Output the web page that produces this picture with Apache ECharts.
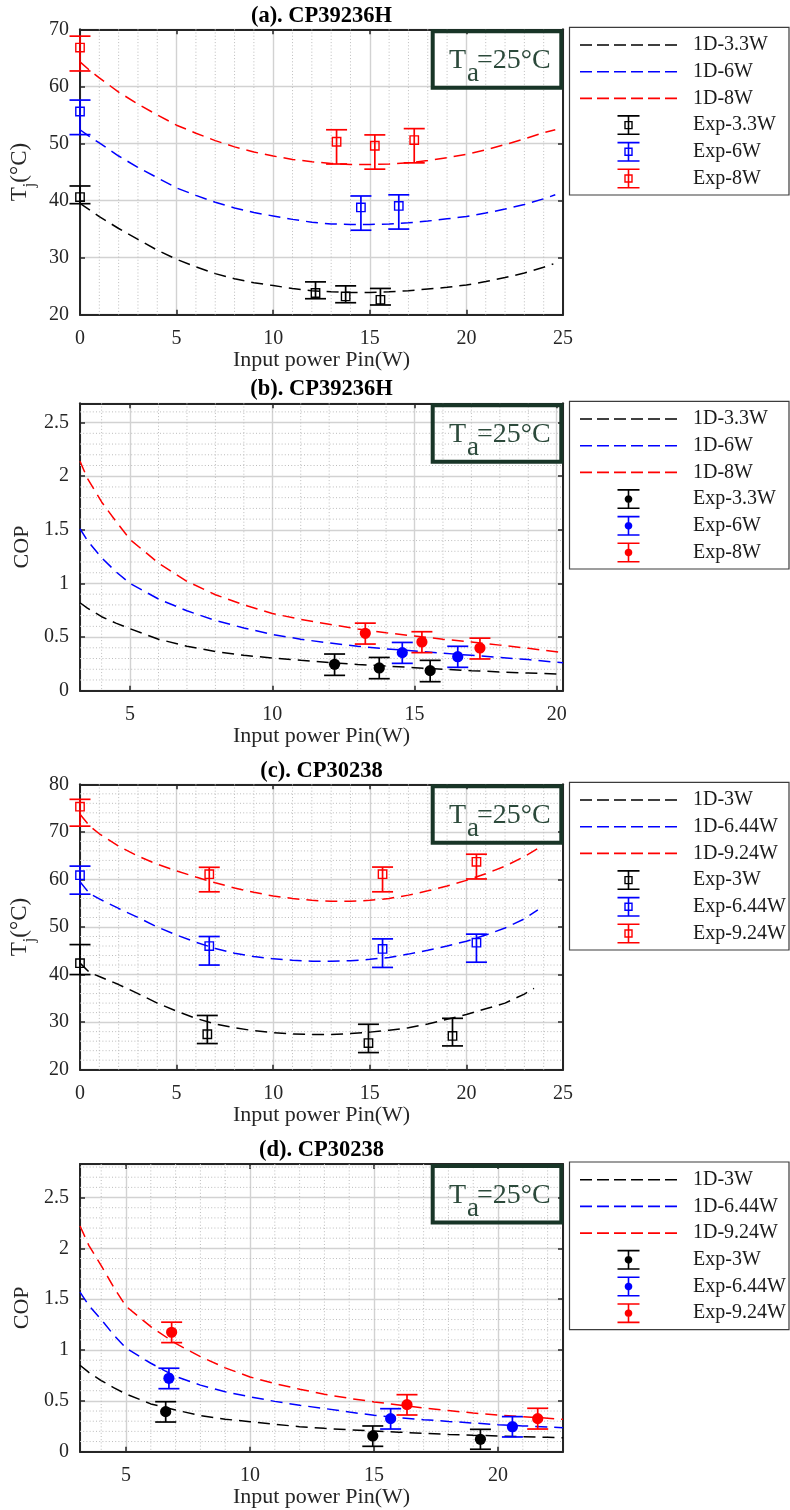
<!DOCTYPE html>
<html><head><meta charset="utf-8">
<script src="https://cdn.jsdelivr.net/npm/echarts@6/dist/echarts.min.js"></script>
<style>html,body{margin:0;padding:0;background:#fff}#c{width:790px;height:1510px}</style>
</head><body><div id="c"></div>
<script>
// ---------------- DATA ----------------
const panelTitles = ['(a). CP39236H', '(b). CP39236H', '(c). CP30238', '(d). CP30238'];
const xTitle = 'Input power Pin(W)';
const legendA = ['1D-3.3W', '1D-6W', '1D-8W', 'Exp-3.3W', 'Exp-6W', 'Exp-8W'];
const legendC = ['1D-3W', '1D-6.44W', '1D-9.24W', 'Exp-3W', 'Exp-6.44W', 'Exp-9.24W'];

// (a) Tj vs Pin, CP39236H  -- fits [x, Tj]; experiments [x, Tj, low, high]
const aFit33 = [[0,39.5],[1,37.2],[2,35.1],[3,33.2],[4,31.3],[5,29.7],[6,28.4],[7,27.2],[8,26.3],[9,25.6],[10,25.1],[11,24.6],[12,24.2],[13,24.0],[14,23.9],[15,23.9],[16,24.0],[17,24.2],[18,24.5],[19,24.8],[20,25.2],[21,25.8],[22,26.5],[23,27.3],[24,28.3],[24.5,28.9]];
const aFit6  = [[0,52.4],[0.5,51.2],[1,50.1],[2,47.8],[3,45.8],[4,44.0],[5,42.2],[6,40.9],[7,39.7],[8,38.7],[9,37.9],[10,37.3],[11,36.7],[12,36.2],[13,35.9],[14,35.8],[15,35.8],[16,35.9],[17,36.1],[18,36.4],[19,36.8],[20,37.2],[21,37.8],[22,38.5],[23,39.3],[24,40.3],[24.6,41.0]];
const aFit8  = [[0,64.3],[0.5,62.8],[1,61.5],[2,59.0],[3,56.9],[4,55.0],[5,53.2],[6,51.8],[7,50.5],[8,49.4],[9,48.5],[10,47.8],[11,47.2],[12,46.8],[13,46.5],[14,46.3],[15,46.3],[16,46.4],[17,46.6],[18,47.0],[19,47.5],[20,48.1],[21,48.9],[22,49.8],[23,50.8],[24,51.9],[24.6,52.4]];
const aExp33 = [[0,40.6,39.45,42.55],[12.19,23.8,22.8,25.75],[13.75,23.2,22.1,25.05],[15.55,22.6,21.7,24.6]];
const aExp6  = [[0,55.6,51.55,57.6],[14.54,38.8,34.8,40.8],[16.5,39.05,35.0,41.0]];
const aExp8  = [[0,66.8,62.7,68.8],[13.28,50.3,46.4,52.4],[15.26,49.6,45.5,51.5],[17.3,50.6,46.6,52.6]];

// (b) COP vs Pin, CP39236H
const bFit33 = [[3.24,0.82],[3.5,0.77],[4,0.69],[4.5,0.63],[5,0.578],[6,0.48],[7,0.415],[8,0.365],[9,0.33],[10,0.305],[11,0.283],[12,0.262],[13,0.245],[14,0.23],[15,0.215],[16,0.2],[17,0.187],[18,0.175],[19,0.165],[20.22,0.153]];
const bFit6  = [[3.24,1.51],[3.5,1.4],[4,1.24],[4.5,1.11],[5,1.0],[6,0.855],[7,0.745],[8,0.655],[9,0.585],[10,0.525],[11,0.48],[12,0.445],[13,0.415],[14,0.39],[15,0.37],[16,0.35],[17,0.33],[18,0.31],[19,0.29],[20.22,0.26]];
const bFit8  = [[3.24,2.14],[3.5,1.98],[4,1.76],[4.5,1.58],[5,1.41],[6,1.19],[7,1.02],[8,0.895],[9,0.8],[10,0.72],[11,0.665],[12,0.62],[13,0.575],[14,0.54],[15,0.51],[16,0.48],[17,0.455],[18,0.425],[19,0.395],[20.22,0.355]];
const bExp33 = [[12.19,0.246,0.143,0.342],[13.76,0.212,0.112,0.31],[15.55,0.187,0.084,0.283]];
const bExp6  = [[14.57,0.355,0.255,0.45],[16.52,0.317,0.218,0.414]];
const bExp8  = [[13.27,0.535,0.435,0.63],[15.26,0.454,0.355,0.55],[17.3,0.398,0.296,0.49]];

// (c) Tj vs Pin, CP30238
const cFit3   = [[0,42.4],[0.5,40.4],[1,39.6],[2,37.9],[3,36.0],[4,34.0],[5,32.3],[6,30.8],[7,29.6],[8,28.8],[9,28.2],[10,27.8],[11,27.5],[12,27.4],[13,27.4],[14,27.6],[15,27.9],[16,28.3],[17,28.8],[18,29.6],[19,30.6],[20,31.6],[21,32.8],[22,34.0],[23,35.9],[23.5,37.1]];
const cFit644 = [[0,59.5],[0.5,57.0],[1,55.9],[2,53.9],[3,52.0],[4,50.0],[5,48.3],[6,46.8],[7,45.5],[8,44.5],[9,43.8],[10,43.3],[11,43.0],[12,42.8],[13,42.8],[14,42.9],[15,43.2],[16,43.6],[17,44.3],[18,45.1],[19,46.0],[20,47.0],[21,48.3],[22,49.8],[23,51.7],[23.7,53.6]];
const cFit924 = [[0,73.7],[0.5,71.2],[1,69.6],[2,67.0],[3,64.9],[4,63.2],[5,61.8],[6,60.5],[7,59.3],[8,58.2],[9,57.3],[10,56.5],[11,56.0],[12,55.6],[13,55.4],[14,55.4],[15,55.6],[16,56.0],[17,56.7],[18,57.6],[19,58.6],[20,59.8],[21,61.2],[22,62.8],[23,64.8],[23.7,66.5]];
const cExp3   = [[0,42.4,40.0,46.3],[6.59,27.45,25.5,31.4],[14.93,25.6,23.6,29.55],[19.28,27.1,25.0,30.8]];
const cExp644 = [[0,60.9,56.9,62.8],[6.69,46.0,42.0,48.0],[15.66,45.4,41.5,47.5],[20.52,46.7,42.6,48.5]];
const cExp924 = [[0,75.3,71.2,76.84],[6.69,61.1,57.4,62.55],[15.66,61.1,57.4,62.6],[20.52,63.7,60.1,65.3]];

// (d) COP vs Pin, CP30238
const dFit3   = [[3.145,0.85],[3.5,0.78],[4,0.7],[4.5,0.63],[5,0.568],[6,0.47],[7,0.41],[8,0.355],[9,0.32],[10,0.295],[11,0.27],[12,0.246],[13,0.23],[14,0.215],[15,0.204],[16,0.192],[17,0.18],[18,0.17],[19,0.162],[20,0.155],[21,0.148],[22,0.142],[22.62,0.138]];
const dFit644 = [[3.145,1.57],[3.5,1.44],[4,1.3],[4.5,1.15],[5,1.02],[6,0.87],[7,0.74],[8,0.655],[9,0.59],[10,0.54],[11,0.495],[12,0.457],[13,0.425],[14,0.39],[15,0.358],[16,0.335],[17,0.315],[18,0.298],[19,0.282],[20,0.266],[21,0.254],[22,0.243],[22.62,0.236]];
const dFit924 = [[3.145,2.22],[3.5,2.03],[4,1.83],[4.5,1.62],[5,1.43],[6,1.23],[7,1.065],[8,0.935],[9,0.825],[10,0.735],[11,0.67],[12,0.615],[13,0.565],[14,0.525],[15,0.49],[16,0.46],[17,0.43],[18,0.405],[19,0.38],[20,0.36],[21,0.345],[22,0.33],[22.62,0.318]];
const dExp3   = [[6.6,0.394,0.292,0.492],[14.95,0.155,0.053,0.253],[19.29,0.122,0.024,0.22]];
const dExp644 = [[6.73,0.722,0.62,0.821],[15.67,0.325,0.223,0.423],[20.58,0.246,0.145,0.345]];
const dExp924 = [[6.84,1.175,1.073,1.274],[16.33,0.463,0.361,0.561],[21.6,0.325,0.223,0.427]];

// ---------------- STYLE / LAYOUT ----------------
const FONT = '"Liberation Serif","Times New Roman",serif';
const AXIS = '#262626';
const COLORS = ['#000000', '#0000ff', '#ff0000'];
const TA_STROKE = '#183527', TA_TEXT = '#2c4a3b';

function steps(a, b, st, skip) { // minor grid positions
  const out = [];
  for (let k = Math.round(a / st); k * st <= b + 1e-9; k++) {
    const v = +(k * st).toFixed(4);
    if (v <= a || v >= b) continue;
    if (Math.abs(v / skip - Math.round(v / skip)) < 1e-6) continue;
    out.push(v);
  }
  return out;
}

const panels = [
  {title: panelTitles[0], top: 29.3, height: 285.4, titleY: 16.3, x: [0, 25], y: [20, 70], xInt: 5, yInt: 10,
   fits: [aFit33, aFit6, aFit8], exps: [aExp33, aExp6, aExp8], names: legendA, marker: 'square', yName: 'tj',
   minorX: steps(0, 25, 1, 5), minorY: []},
  {title: panelTitles[1], top: 403.3, height: 287.4, titleY: 389.5, x: [3.24, 20.22], y: [0, 2.68], xInt: null, yInt: 0.5,
   fits: [bFit33, bFit6, bFit8], exps: [bExp33, bExp6, bExp8], names: legendA, marker: 'dot', yName: 'cop',
   minorX: steps(3.24, 20.22, 1, 5), minorY: steps(0, 2.68, 0.1, 0.5)},
  {title: panelTitles[2], top: 784.3, height: 285.4, titleY: 771.5, x: [0, 25], y: [20, 80], xInt: 5, yInt: 10,
   fits: [cFit3, cFit644, cFit924], exps: [cExp3, cExp644, cExp924], names: legendC, marker: 'square', yName: 'tj',
   minorX: steps(0, 25, 1, 5), minorY: steps(20, 80, 2, 10)},
  {title: panelTitles[3], top: 1164, height: 287.7, titleY: 1150.5, x: [3.145, 22.62], y: [0, 2.83], xInt: null, yInt: 0.5,
   fits: [dFit3, dFit644, dFit924], exps: [dExp3, dExp644, dExp924], names: legendC, marker: 'dot', yName: 'cop',
   minorX: steps(3.145, 22.62, 1, 5), minorY: steps(0, 2.83, 0.1, 0.5)}
];

// legend icons (shapes only)
function dashIcon() {
  let s = 'path://';
  for (let k = 0; k < 6; k++) { const x0 = k * 17; s += `M${x0} 0L${x0 + 12} 0L${x0 + 12} 1.6L${x0} 1.6Z `; }
  return s;
}
const ERR_BASE = 'M0 0L22 0L22 1.6L0 1.6Z M0 18.4L22 18.4L22 20L0 20Z M10.2 0L11.8 0L11.8 20L10.2 20Z ';
const ICON_SQ = 'path://' + ERR_BASE + 'M6.8 5.8L15.2 5.8L15.2 14.2L6.8 14.2Z M8.2 7.2L8.2 12.8L13.8 12.8L13.8 7.2Z';
function dotIcon() {
  let s = 'path://' + ERR_BASE + 'M';
  const n = 24;
  for (let k = 0; k < n; k++) {
    const t = 2 * Math.PI * k / n;
    s += (k ? 'L' : '') + (11 + 3.8 * Math.cos(t)).toFixed(2) + ' ' + (10 + 3.8 * Math.sin(t)).toFixed(2);
  }
  return s + 'Z';
}
const ICON_DASH = dashIcon(), ICON_DOT = dotIcon();

function errRender(marker) {
  return function (params, api) {
    const x = api.value(0), y = api.value(1), lo = api.value(2), hi = api.value(3);
    const c = api.coord([x, y]), l = api.coord([x, lo]), h = api.coord([x, hi]);
    const col = api.visual('color');
    const hw = 10.5, lw = 1.7;
    const ch = [
      {type: 'line', shape: {x1: c[0], y1: h[1], x2: c[0], y2: l[1]}, style: {stroke: col, lineWidth: lw}},
      {type: 'line', shape: {x1: c[0] - hw, y1: h[1], x2: c[0] + hw, y2: h[1]}, style: {stroke: col, lineWidth: lw}},
      {type: 'line', shape: {x1: c[0] - hw, y1: l[1], x2: c[0] + hw, y2: l[1]}, style: {stroke: col, lineWidth: lw}}
    ];
    if (marker === 'square') {
      ch.push({type: 'rect', shape: {x: c[0] - 4.2, y: c[1] - 4.2, width: 8.4, height: 8.4}, style: {fill: 'none', stroke: col, lineWidth: 1.4}});
    } else {
      ch.push({type: 'circle', shape: {cx: c[0], cy: c[1], r: 5.6}, style: {fill: col}});
    }
    return {type: 'group', children: ch};
  };
}

function minorRender(params, api) {
  const cs = params.coordSys;
  const kind = api.value(0);
  const p = api.coord([api.value(1), api.value(2)]);
  const st = {stroke: '#bcbcbc', lineWidth: 1, lineDash: [1, 2.2]};
  if (kind === 0) return {type: 'line', shape: {x1: p[0], y1: cs.y, x2: p[0], y2: cs.y + cs.height}, style: st};
  return {type: 'line', shape: {x1: cs.x, y1: p[1], x2: cs.x + cs.width, y2: p[1]}, style: st};
}

const grids = [], xAxes = [], yAxes = [], series = [], legends = [], graphics = [];

function makeAxis(kind, gi, pos, p) {
  const isMain = pos === 'bottom' || pos === 'left';
  const ax = {
    type: 'value', gridIndex: gi, position: pos,
    min: kind === 'x' ? p.x[0] : p.y[0], max: kind === 'x' ? p.x[1] : p.y[1],
    axisLine: {show: true, onZero: false, lineStyle: {color: AXIS, width: 2}},
    axisTick: {show: true, inside: true, length: 5, lineStyle: {color: AXIS, width: 1.5}},
    splitLine: {show: isMain, lineStyle: {color: '#d2d2d2', width: 1.4}},
    axisLabel: {show: isMain, fontFamily: FONT, fontSize: 20, color: AXIS, margin: kind === 'x' ? 14 : 11},
    minorTick: {show: false}, minorSplitLine: {show: false}
  };
  if (kind === 'x') {
    if (p.xInt) { ax.interval = p.xInt; }
    else { ax.minInterval = 5; ax.maxInterval = 5; ax.splitNumber = 4; ax.axisLabel.showMinLabel = false; ax.axisLabel.showMaxLabel = false; }
    if (isMain) {
      ax.name = xTitle; ax.nameLocation = 'middle'; ax.nameGap = 33;
      ax.nameTextStyle = {fontFamily: FONT, fontSize: 22, color: AXIS};
    }
  } else {
    ax.interval = p.yInt;
    if (p.yInt === 0.5) ax.axisLabel.showMaxLabel = false;
    if (isMain) {
      ax.nameLocation = 'middle';
      if (p.yName === 'tj') {
        ax.name = '{t|T}{s|j}{t|(°C)}';
        ax.nameGap = 34;
        ax.nameTextStyle = {fontFamily: FONT, fontSize: 22, color: AXIS, rich: {
          t: {fontFamily: FONT, fontSize: 23, color: AXIS},
          s: {fontFamily: FONT, fontSize: 16, color: AXIS, padding: [20, 0, 0, 0]}
        }};
      } else {
        ax.name = 'COP';
        ax.nameGap = 47;
        ax.nameTextStyle = {fontFamily: FONT, fontSize: 22, color: AXIS};
      }
    }
  }
  return ax;
}

panels.forEach((p, i) => {
  grids.push({left: 80, top: p.top, width: 483, height: p.height, containLabel: false, outerBoundsMode: 'none'});
  xAxes.push(makeAxis('x', i, 'bottom', p));
  xAxes.push(makeAxis('x', i, 'top', p));
  yAxes.push(makeAxis('y', i, 'left', p));
  yAxes.push(makeAxis('y', i, 'right', p));
  const xi = 2 * i, yi = 2 * i;

  // minor dotted grid
  const mdata = p.minorX.map(v => [0, v, p.y[0]]).concat(p.minorY.map(v => [1, p.x[0], v]));
  series.push({type: 'custom', name: 'minor-grid-' + i, xAxisIndex: xi, yAxisIndex: yi, data: mdata,
    encode: {x: 1, y: 2}, renderItem: minorRender, silent: true, z: 1, clip: false});

  p.fits.forEach((d, k) => {
    series.push({type: 'line', name: p.names[k], xAxisIndex: xi, yAxisIndex: yi, data: d,
      symbol: 'none', showSymbol: false, smooth: false, z: 3, silent: true,
      itemStyle: {color: COLORS[k]}, lineStyle: {color: COLORS[k], width: 1.5, type: [12, 7]}});
  });
  p.exps.forEach((d, k) => {
    series.push({type: 'custom', name: p.names[3 + k], xAxisIndex: xi, yAxisIndex: yi, data: d,
      encode: {x: 0, y: [1, 2, 3]}, renderItem: errRender(p.marker), itemStyle: {color: COLORS[k]},
      clip: false, z: 5, silent: true});
  });

  const boxTop = p.top - 2;
  legends.push({
    orient: 'vertical', left: 580, top: boxTop + 7.7, padding: 0,
    itemWidth: 97, itemHeight: 20, itemGap: 6.7, selectedMode: false,
    itemStyle: {borderWidth: 0},
    textStyle: {fontFamily: FONT, fontSize: 20, color: '#1a1a1a', padding: [0, 0, 0, 11]},
    data: p.names.map((n, k) => ({name: n, icon: k < 3 ? ICON_DASH : (p.marker === 'square' ? ICON_SQ : ICON_DOT)}))
  });
  graphics.push({type: 'rect', shape: {x: 569.5, y: boxTop, width: 219.5, height: 167.7},
    style: {fill: 'none', stroke: '#3c3c3c', lineWidth: 1.2}, z: 10, silent: true});

  // Ta box
  graphics.push({type: 'rect', shape: {x: 432.7, y: p.top + 2, width: 128.6, height: 56.5},
    style: {fill: 'none', stroke: TA_STROKE, lineWidth: 4}, z: 10, silent: true});
  graphics.push({type: 'text', x: 449, y: p.top + 31.2, z: 11, silent: true,
    style: {text: 'T', font: '28px ' + FONT, fill: TA_TEXT, align: 'left', verticalAlign: 'middle'}});
  graphics.push({type: 'text', x: 467, y: p.top + 45, z: 11, silent: true,
    style: {text: 'a', font: '27px ' + FONT, fill: TA_TEXT, align: 'left', verticalAlign: 'middle'}});
  graphics.push({type: 'text', x: 477, y: p.top + 31.2, z: 11, silent: true,
    style: {text: '=25°C', font: '28px ' + FONT, fill: TA_TEXT, align: 'left', verticalAlign: 'middle'}});

  // title
  graphics.push({type: 'text', x: 321.5, y: p.titleY, z: 11, silent: true,
    style: {text: p.title, font: 'bold 22.5px ' + FONT, fill: '#000', align: 'center', verticalAlign: 'middle'}});
});

const chart = echarts.init(document.getElementById('c'), null, {renderer: 'canvas', width: 790, height: 1510});
chart.setOption({
  backgroundColor: '#ffffff',
  animation: false,
  grid: grids,
  xAxis: xAxes,
  yAxis: yAxes,
  legend: legends,
  series: series,
  graphic: {elements: graphics}
});
</script>
</body></html>
